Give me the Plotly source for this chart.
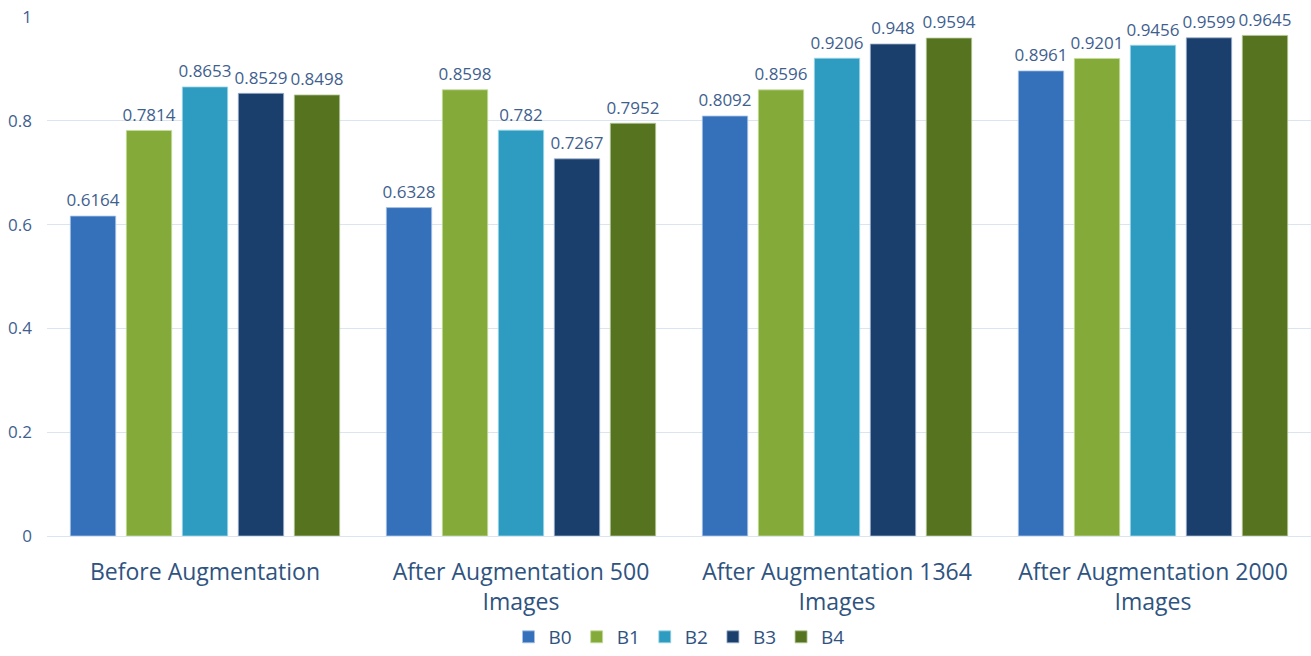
import plotly.graph_objects as go

# Accuracy of EfficientNet variants B0-B4 at each augmentation stage
stages = [
    "Before Augmentation",
    "After Augmentation 500<br>Images",
    "After Augmentation 1364<br>Images",
    "After Augmentation 2000<br>Images",
]
models = ["B0", "B1", "B2", "B3", "B4"]
b0 = [0.6164, 0.6328, 0.8092, 0.8961]
b1 = [0.7814, 0.8598, 0.8596, 0.9201]
b2 = [0.8653, 0.7820, 0.9206, 0.9456]
b3 = [0.8529, 0.7267, 0.9480, 0.9599]
b4 = [0.8498, 0.7952, 0.9594, 0.9645]
series = [b0, b1, b2, b3, b4]
colors = ["#3571bb", "#84ab3a", "#2d9cc0", "#1b3f6d", "#56731f"]
edge_colors = ["#a9c4e6", "#c7dca0", "#a3d8e8", "#9fb3cf", "#b5c69a"]

GAP = 0.114

fig = go.Figure()
for name, vals, col, edge in zip(models, series, colors, edge_colors):
    fig.add_trace(go.Bar(
        name=name,
        x=stages,
        y=vals,
        offsetgroup=name,
        marker=dict(color=col, line=dict(color=edge, width=0.8)),
        hovertemplate="%{x}<br>" + name + ": %{y}<extra></extra>",
    ))

# value labels, placed in the same groups as the bars
for name, vals in zip(models, series):
    fig.add_trace(go.Scatter(
        x=stages,
        y=vals,
        offsetgroup=name,
        mode="markers+text",
        marker=dict(size=7, opacity=0),
        text=[f"{v:g}" for v in vals],
        textposition="top center",
        textfont=dict(family="Open Sans", size=17, color="#3f5f8f"),
        showlegend=False,
        hoverinfo="skip",
        cliponaxis=False,
    ))

fig.update_layout(
    width=1311,
    height=656,
    barmode="group",
    bargap=GAP,
    bargroupgap=0.19,
    scattermode="group",
    scattergap=GAP,
    plot_bgcolor="white",
    paper_bgcolor="white",
    margin=dict(l=47, r=0, t=17, b=120, autoexpand=False),
    font=dict(family="Open Sans", color="#2f5380"),
    showlegend=True,
    legend=dict(
        orientation="h",
        x=0.5, xanchor="center",
        y=-0.2312, yanchor="bottom",
        font=dict(size=19, color="#2f5380"),
        itemwidth=30,
        traceorder="normal",
    ),
    xaxis=dict(
        tickfont=dict(size=23, color="#2f5380"),
        showline=False,
        showgrid=False,
        ticks="",
        automargin=False,
        ticklabelstandoff=20,
    ),
    yaxis=dict(
        range=[0, 1],
        tickvals=[0, 0.2, 0.4, 0.6, 0.8, 1],
        ticktext=["0", "0.2", "0.4", "0.6", "0.8", "1"],
        tickfont=dict(size=17, color="#3f5f8f"),
        gridcolor="#dbe5f1",
        gridwidth=1,
        zeroline=True,
        zerolinecolor="#dbe5f1",
        zerolinewidth=1,
        showline=False,
        ticks="",
        automargin=False,
        ticklabelstandoff=14,
    ),
)

fig.write_html("out.html")
